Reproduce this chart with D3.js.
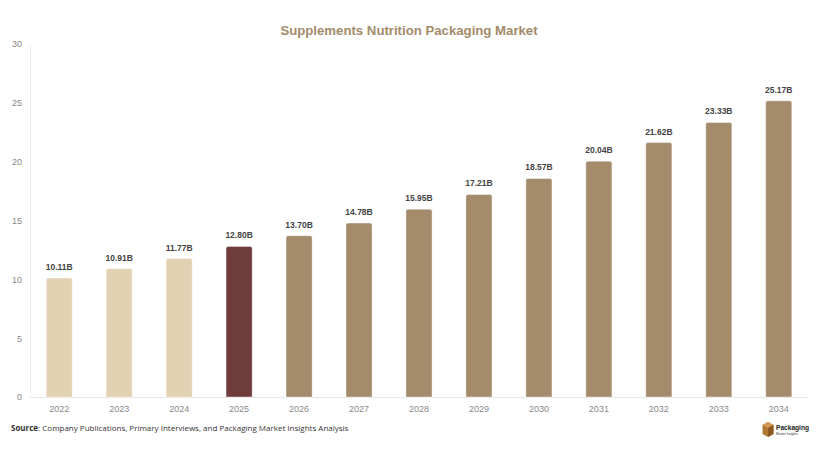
<!DOCTYPE html>
<html>
<head>
<meta charset="utf-8">
<script src="https://cdn.jsdelivr.net/npm/d3@7"></script>
<style>
    body { margin: 0; background: #fff; font-family: "Liberation Sans", Arial, sans-serif; }
    #chart { width: 820px; height: 454px; }
</style>
</head>
<body>
<div id="chart"></div>
<script>
// chart data
const years = ["2022", "2023", "2024", "2025", "2026", "2027", "2028", "2029", "2030", "2031", "2032", "2033", "2034"];
const marketValues = [10.11, 10.91, 11.77, 12.80, 13.70, 14.78, 15.95, 17.21, 18.57, 20.04, 21.62, 23.33, 25.17];
const valueLabels = ["10.11B", "10.91B", "11.77B", "12.80B", "13.70B", "14.78B", "15.95B", "17.21B", "18.57B", "20.04B", "21.62B", "23.33B", "25.17B"];
const yTicks = [0, 5, 10, 15, 20, 25, 30];

const colorPast = "#e3d1b3";
const colorCurrent = "#6f3c3c";
const colorFuture = "#a38b6c";

let margin = {top: 44, right: 12, bottom: 57, left: 30};
let width = 820 - margin.left - margin.right;
let height = 454 - margin.top - margin.bottom;

let svg = d3.select("#chart").append("svg")
    .attr("width", 820)
    .attr("height", 454);

// title
svg.append("text")
    .attr("x", 409)
    .attr("y", 35)
    .attr("text-anchor", "middle")
    .attr("font-size", "13.2px")
    .attr("font-weight", "bold")
    .attr("fill", "#a38b6c")
    .text("Supplements Nutrition Packaging Market");

let g = svg.append("g")
    .attr("transform", `translate(${margin.left}, ${margin.top})`);

let x = d3.scaleBand()
    .domain(years)
    .range([0, width])
    .paddingInner(0.565)
    .paddingOuter(0.27);

let y = d3.scaleLinear()
    .domain([0, 30])
    .range([height, 0]);

// left axis line + labels
let yAxis = g.append("g")
    .call(d3.axisLeft(y).tickValues(yTicks).tickSize(0).tickPadding(8));
yAxis.select(".domain").attr("stroke", "#eeeeee");
yAxis.selectAll("text")
    .attr("font-size", "9px")
    .attr("fill", "#888")
    .attr("font-family", "Liberation Sans, Arial, sans-serif");

// bottom axis
let xAxis = g.append("g")
    .attr("transform", `translate(0, ${height})`)
    .call(d3.axisBottom(x).tickSize(0).tickPadding(9));
xAxis.select(".domain").attr("stroke", "#e6e6e6");
xAxis.selectAll("text")
    .attr("font-size", "9px")
    .attr("fill", "#888")
    .attr("font-family", "Liberation Sans, Arial, sans-serif");

function barColor(i) {
    if (years[i] < "2025") return colorPast;
    if (years[i] === "2025") return colorCurrent;
    return colorFuture;
}

// bars with slightly rounded tops
g.selectAll(".bar")
    .data(marketValues)
    .enter()
    .append("path")
    .attr("class", "bar")
    .attr("d", function(d, i) {
        let x0 = x(years[i]), w = x.bandwidth(), y0 = y(d), r = 2;
        return `M${x0},${height} V${y0 + r} Q${x0},${y0} ${x0 + r},${y0} H${x0 + w - r} Q${x0 + w},${y0} ${x0 + w},${y0 + r} V${height} Z`;
    })
    .attr("fill", function(d, i) { return barColor(i); })
    .attr("stroke", "rgba(255,255,255,0.5)")
    .attr("stroke-width", 0.8);

// value labels
g.selectAll(".val")
    .data(marketValues)
    .enter()
    .append("text")
    .attr("class", "val")
    .attr("x", function(d, i) { return x(years[i]) + x.bandwidth() / 2; })
    .attr("y", function(d) { return y(d) - 8; })
    .attr("text-anchor", "middle")
    .attr("font-size", "8.5px")
    .attr("font-weight", "bold")
    .attr("fill", "#444")
    .text(function(d, i) { return valueLabels[i]; });

// source note
let src = svg.append("text")
    .attr("x", 11)
    .attr("y", 431)
    .attr("font-size", "8px")
    .attr("fill", "#333")
    .attr("font-family", "Open Sans, sans-serif");
src.append("tspan").attr("font-weight", "bold").text("Source");
src.append("tspan").text(": Company Publications, Primary Interviews, and Packaging Market Insights Analysis");

// logo
let logo = svg.append("g").attr("transform", "translate(768, 430)");
logo.append("path")
    .attr("d", "M0,-8 L5.5,-5 L5.5,4 L0,7 L-5.5,4 L-5.5,-5 Z")
    .attr("fill", "#b07a35");
logo.append("path")
    .attr("d", "M0,-8 L5.5,-5 L0,-2 L-5.5,-5 Z")
    .attr("fill", "#d29a4e");
logo.append("path")
    .attr("d", "M0,-2 L5.5,-5 L5.5,4 L0,7 Z")
    .attr("fill", "#8a5a22");
logo.append("text")
    .attr("x", 8)
    .attr("y", -0.5)
    .attr("font-size", "6.6px")
    .attr("font-weight", "bold")
    .attr("fill", "#222")
    .text("Packaging");
logo.append("text")
    .attr("x", 8)
    .attr("y", 4.5)
    .attr("font-size", "3.2px")
    .attr("fill", "#333")
    .text("Market Insights");
</script>
</body>
</html>
